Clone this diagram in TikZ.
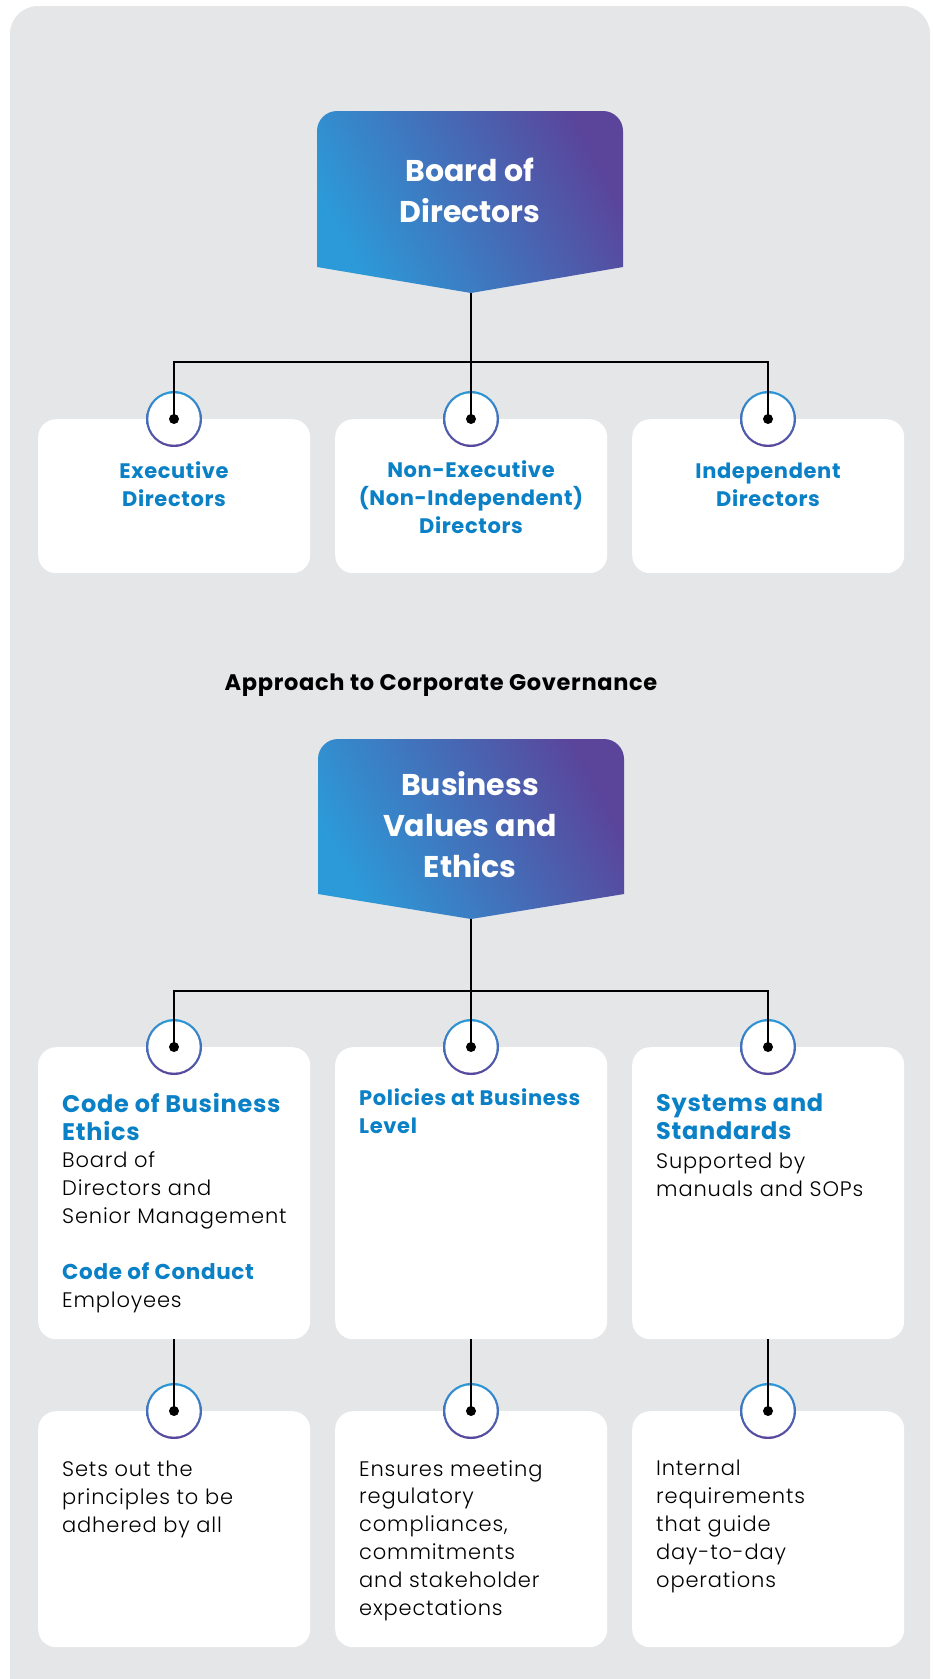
\documentclass[tikz,border=0pt]{standalone}
\usepackage{fontspec}
\setmainfont{Poppins}[LetterSpace=3]
\newfontfamily\lightf{Poppins Light}[LetterSpace=4]
\newfontfamily\headf{Poppins}
\definecolor{bgg}{HTML}{E5E6E8}
\definecolor{tblue}{HTML}{0A80C6}
\definecolor{gblue}{HTML}{2C9AD8}
\definecolor{gpurp}{HTML}{5A459B}
\tikzset{
  card/.style={fill=white, rounded corners=18pt, draw=none, inner sep=0pt, anchor=north west},
  conn/.style={line width=2.6pt, black},
  head/.style={left color=gpurp, right color=gblue, shading angle=-62},
  headtxt/.style={text=white, font=\headf\bfseries\fontsize{30}{41}\selectfont, align=center, inner sep=0pt, anchor=base},
  dirtxt/.style={text=tblue, font=\bfseries\fontsize{21}{27.8}\selectfont, align=center, inner sep=0pt, anchor=base},
  bigtitle/.style={text=tblue, align=left, inner sep=0pt, anchor=base west, font=\bfseries\fontsize{24}{27.8}\selectfont},
  midtitle/.style={text=tblue, align=left, inner sep=0pt, anchor=base west, font=\bfseries\fontsize{21}{27.8}\selectfont},
  bodytxt/.style={align=left, inner sep=0pt, anchor=base west, font=\lightf\fontsize{21}{27.8}\selectfont},
}
\newcommand\ringat[1]{\shade[top color=gblue, bottom color=gpurp] (#1) circle (28pt); \fill[white] (#1) circle (25.7pt);}
\begin{document}
\begin{tikzpicture}[x=1pt, y=-1pt]
\useasboundingbox (0,0) rectangle (933,1679);
\clip (0,0) rectangle (933,1679);
\fill[white] (0,0) rectangle (933,1679);
\fill[bgg, rounded corners=28pt] (10,6) rectangle (930,1710);

% ---- Board of Directors ----
\shade[head] (317,267) -- (317,131) arc (180:270:20) -- (603,111) arc (270:360:20) -- (623,267) -- (471,293) -- cycle;
\coordinate (bodtip) at (471,293);
\node[headtxt] (bod) at (470,222) {Board of\\Directors};

\node[card, minimum width=272pt, minimum height=154pt] (d1) at (38,419) {};
\node[card, minimum width=272pt, minimum height=154pt] (d2) at (335,419) {};
\node[card, minimum width=272pt, minimum height=154pt] (d3) at (632,419) {};
\coordinate (r1) at (174,419);
\coordinate (r2) at (471,419);
\coordinate (r3) at (768,419);
\ringat{r1}\ringat{r2}\ringat{r3}
\coordinate (j1) at (471,362);
\draw[conn] (bodtip) -- (j1);
\draw[conn] (r1) |- (j1) -| (r3);
\draw[conn] (j1) -- (r2);
\foreach \c in {r1,r2,r3} \fill (\c) circle (5pt);

\node[dirtxt] (t1) at (174,506) {Executive\\Directors};
\node[dirtxt] (t2) at (471,533) {Non-Executive\\(Non-Independent)\\Directors};
\node[dirtxt] (t3) at (768,506) {Independent\\Directors};

\node[font=\bfseries\fontsize{22.5}{26}\selectfont, anchor=base, inner sep=0pt] (appr) at (441,690) {Approach to Corporate Governance};

% ---- Business Values and Ethics ----
\shade[head] (318,894) -- (318,759) arc (180:270:20) -- (604,739) arc (270:360:20) -- (624,894) -- (471,919) -- cycle;
\coordinate (bvtip) at (471,919);
\node[headtxt] (bv) at (470,877) {Business\\Values and\\Ethics};

\node[card, minimum width=272pt, minimum height=292pt] (p1) at (38,1047) {};
\node[card, minimum width=272pt, minimum height=292pt] (p2) at (335,1047) {};
\node[card, minimum width=272pt, minimum height=292pt] (p3) at (632,1047) {};
\node[card, minimum width=272pt, minimum height=236pt] (q1) at (38,1411) {};
\node[card, minimum width=272pt, minimum height=236pt] (q2) at (335,1411) {};
\node[card, minimum width=272pt, minimum height=236pt] (q3) at (632,1411) {};

\coordinate (s1) at (174,1047);
\coordinate (s2) at (471,1047);
\coordinate (s3) at (768,1047);
\coordinate (u1) at (174,1411);
\coordinate (u2) at (471,1411);
\coordinate (u3) at (768,1411);
\ringat{s1}\ringat{s2}\ringat{s3}
\ringat{u1}\ringat{u2}\ringat{u3}
\coordinate (j2) at (471,991);
\draw[conn] (bvtip) -- (j2);
\draw[conn] (s1) |- (j2) -| (s3);
\draw[conn] (j2) -- (s2);
\draw[conn] (p1.south -| u1) -- (u1);
\draw[conn] (p2.south -| u2) -- (u2);
\draw[conn] (p3.south -| u3) -- (u3);
\foreach \c in {s1,s2,s3,u1,u2,u3} \fill (\c) circle (5pt);

\node[bigtitle] (cbe) at (62,1140) {Code of Business\\Ethics};
\node[bodytxt] (cbeb) at (62,1223) {Board of\\Directors and\\Senior Management};
\node[bigtitle, font=\bfseries\fontsize{21.5}{27.8}\selectfont] (coc) at (62,1279) {Code of Conduct};
\node[bodytxt] (cocb) at (62,1307) {Employees};
\node[midtitle] (pol) at (359,1133) {Policies at Business\\Level};
\node[bigtitle] (sys) at (656,1139) {Systems and\\Standards};
\node[bodytxt] (sysb) at (656,1196) {Supported by\\manuals and SOPs};

\node[bodytxt] (e1) at (62,1532) {Sets out the\\principles to be\\adhered by all};
\node[bodytxt] (e2) at (359,1615) {Ensures meeting\\regulatory\\compliances,\\commitments\\and stakeholder\\expectations};
\node[bodytxt] (e3) at (656,1587) {Internal\\requirements\\that guide\\day-to-day\\operations};
\end{tikzpicture}
\end{document}
